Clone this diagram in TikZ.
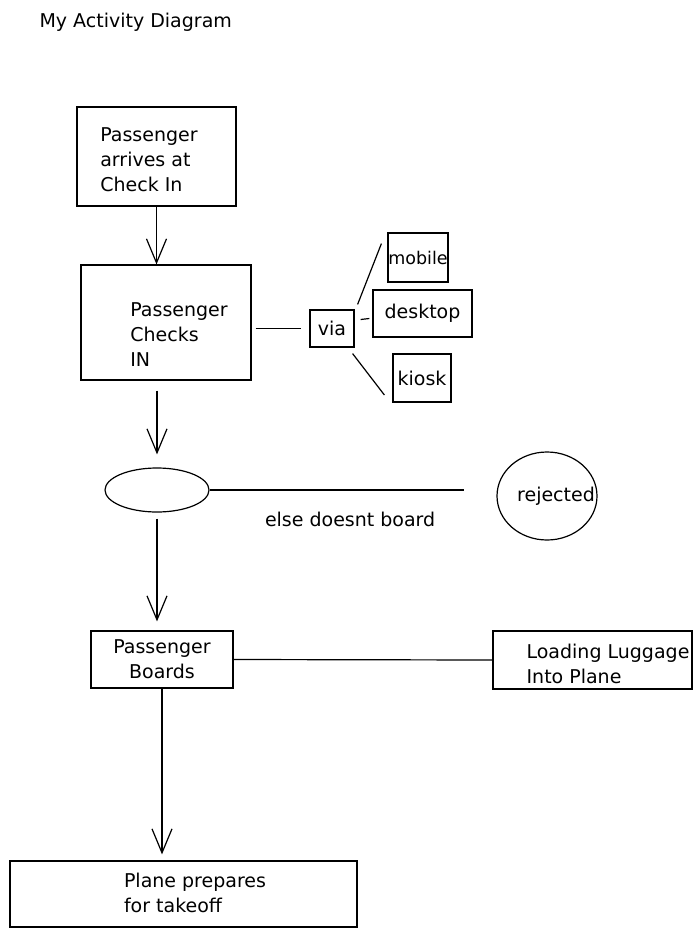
\documentclass[tikz,border=0pt]{standalone}
\usepackage{fontspec}
\setmainfont{DejaVu Sans}
\usetikzlibrary{shapes.geometric, arrows.meta}

\begin{document}
\begin{tikzpicture}[x=1pt, y=1pt, box/.style={draw, line width=1.2pt, inner sep=0pt}, txt/.style={align=left, font=\fontsize{19}{25}\selectfont}, flow/.style={line width=1.2pt, -{Straight Barb[length=24pt, width=20pt, line width=1.2pt]}}, link/.style={line width=1.2pt}]
\node[anchor=west, font=\fontsize{19}{22}\selectfont] (title) at (36,-22) {My Activity Diagram};

\node[box, minimum width=159, minimum height=99] (arrive) at (156.5,-156.5) {};
\node[txt] (arrivetext) at (149,-160) {Passenger\\arrives at\\Check In};
\node[box, minimum width=170, minimum height=115] (checkin) at (166,-322.5) {};
\node[txt] (checkintext) at (179,-335) {Passenger\\Checks\\IN};

\node[box, txt, minimum width=44, minimum height=37] (via) at (332,-328.5) {via};
\node[box, txt, font=\fontsize{17.5}{20}\selectfont, minimum width=60, minimum height=49] (mobile) at (418,-257.5) {mobile};
\node[box, txt, minimum width=99, minimum height=47] (desktop) at (422.5,-313.5) {desktop};
\node[box, txt, minimum width=58, minimum height=48] (kiosk) at (422,-378) {kiosk};

\node[draw, ellipse, line width=1.2pt, inner sep=0pt, minimum width=104, minimum height=44] (decide) at (157,-490) {};
\node[draw, ellipse, line width=1.2pt, inner sep=0pt, minimum width=100, minimum height=88] (reject) at (547,-496) {};
\node[txt] (rejecttext) at (556,-496) {rejected};

\node[box, txt, align=center, minimum width=142, minimum height=57] (boards) at (162,-659.5) {Passenger\\Boards};
\node[box, minimum width=199, minimum height=58] (luggage) at (592.5,-660) {};
\node[txt] (luggagetext) at (608,-664) {Loading Luggage\\Into Plane};

\node[box, minimum width=347, minimum height=66] (plane) at (183.5,-894) {};
\node[txt] (planetext) at (195,-893) {Plane prepares\\for takeoff};

\draw[flow] (arrive.south) -- (arrive.south |- checkin.north);
\draw[link, shorten <=4, shorten >=8] (checkin.east |- via.west) -- (via.west);
\draw[link] ([shift={(3,5)}]via.north east) -- ([shift={(-6,39)}]mobile.south west);
\draw[link] ([shift={(6,9)}]via.east) -- ([shift={(-3,-5)}]desktop.west);
\draw[link] ([shift={(-2,-6)}]via.south east) -- ([shift={(-8,-17)}]kiosk.west);

\draw[flow, shorten <=10, shorten >=13] (decide.north |- checkin.south) -- (decide.north);
\draw[link, shorten >=32] (decide.east) -- (decide.east -| reject.west) node[pos=0.49, below=18, txt] (elselabel) {else doesnt board};
\draw[flow, shorten <=6, shorten >=9] (decide.south) -- (decide.south |- boards.north);

\draw[link] (boards.east) -- (luggage.west);
\draw[flow, shorten >=6] (boards.south) -- (boards.south |- plane.north);

\path (0,0) to (700,-939);

\end{tikzpicture}
\end{document}
